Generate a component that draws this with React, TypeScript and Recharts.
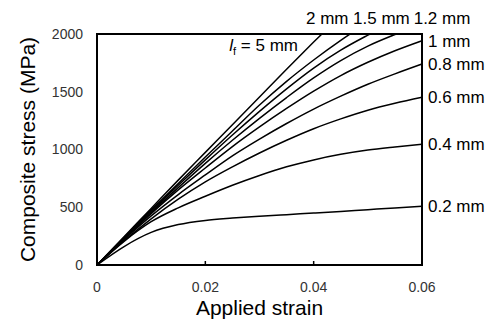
import { LineChart, Line, XAxis, YAxis, ReferenceArea, ReferenceDot } from 'recharts';

const strain = [0, 0.005, 0.01, 0.015, 0.02, 0.025, 0.03, 0.035, 0.04, 0.045, 0.05, 0.055, 0.06];

// composite stress (MPa) per fibre length
const lf02 = [0, 160, 282, 350, 386, 406, 422, 436, 450, 464, 479, 494, 508];
const lf04 = [0, 205, 375, 495, 595, 690, 775, 850, 910, 958, 995, 1022, 1046];
const lf06 = [0, 210, 400, 570, 720, 850, 970, 1080, 1180, 1265, 1340, 1400, 1452];
const lf08 = [0, 220, 425, 610, 780, 945, 1090, 1225, 1350, 1462, 1565, 1655, 1740];
const lf10 = [0, 225, 445, 650, 840, 1025, 1195, 1355, 1505, 1640, 1755, 1855, 1942];
const lf12 = [0, 230, 455, 670, 880, 1080, 1270, 1450, 1620, 1770, 1895, 1995, 2085];
const lf15 = [0, 235, 465, 690, 910, 1125, 1330, 1525, 1705, 1860, 1990, 2110, null];
const lf20 = [0, 240, 475, 705, 935, 1160, 1385, 1590, 1775, 1945, 2100, null, null];
const lf50 = [0, 245, 490, 735, 975, 1215, 1455, 1695, 1930, 2160, null, null, null];

const xTicks = [0, 0.02, 0.04, 0.06];
const yTicks = [0, 500, 1000, 1500, 2000];

const series = [
  { key: 'lf02', name: '0.2 mm', values: lf02 },
  { key: 'lf04', name: '0.4 mm', values: lf04 },
  { key: 'lf06', name: '0.6 mm', values: lf06 },
  { key: 'lf08', name: '0.8 mm', values: lf08 },
  { key: 'lf10', name: '1 mm', values: lf10 },
  { key: 'lf12', name: '1.2 mm', values: lf12 },
  { key: 'lf15', name: '1.5 mm', values: lf15 },
  { key: 'lf20', name: '2 mm', values: lf20 },
  { key: 'lf50', name: '5 mm', values: lf50 },
];

// labels for the curves that leave through the top of the frame
const topLabels = [
  { text: '2 mm', x: 0.0425, y: 2140 },
  { text: '1.5 mm', x: 0.0525, y: 2140 },
  { text: '1.2 mm', x: 0.0637, y: 2140 },
];

const data = strain.map((s, i) => {
  const row: Record<string, number | null> = { strain: s };
  series.forEach((sr) => (row[sr.key] = sr.values[i]));
  return row;
});

const FONT = '"Liberation Sans", Arial, sans-serif';
const last = strain.length - 1;

const fmt = (v: number) => (v === 0 ? '0' : String(v));

function XTick(props: any) {
  const { x, y, payload } = props;
  return (
    <g>
      {payload.value > 0 && payload.value < 0.06 && (
        <line x1={x} x2={x} y1={y} y2={y - 4} stroke="#000" strokeWidth={1.5} />
      )}
      <text x={x} y={y + 27} textAnchor="middle" fontSize={14} fill="#333" fontFamily={FONT}>
        {fmt(payload.value)}
      </text>
    </g>
  );
}

const endLabel = (name: string, withLabel: boolean) => (props: any) => {
  const { x, y, index } = props;
  if (!withLabel || index !== last) return null;
  return (
    <text key={name} x={x + 6} y={y} dy={6} fontSize={17} fill="#000" fontFamily={FONT}>
      {name}
    </text>
  );
};

export default function App() {
  return (
    <div style={{ position: 'absolute', left: 0, top: 0, background: '#fff' }}>
      <LineChart width={490} height={323} data={data} margin={{ top: 34, right: 68, left: 0, bottom: 0 }}>
        <XAxis
          dataKey="strain"
          type="number"
          domain={[0, 0.06]}
          ticks={xTicks}
          height={58}
          axisLine={{ stroke: '#000', strokeWidth: 2 }}
          tickLine={false}
          tickSize={0}
          tickMargin={0}
          tick={<XTick />}
          label={{ value: 'Applied strain', position: 'insideBottom', offset: 8, fontSize: 21, fill: '#000', fontFamily: FONT }}
        />
        <YAxis
          type="number"
          domain={[0, 2000]}
          ticks={yTicks}
          width={97}
          allowDataOverflow
          axisLine={{ stroke: '#000', strokeWidth: 2 }}
          tickLine={false}
          tickSize={0}
          tickMargin={14}
          tick={{ fontSize: 14, fill: '#333', fontFamily: FONT }}
          label={(p: any) => {
            const vb = p.viewBox;
            const cx = 27;
            const cy = vb.y + vb.height / 2;
            return (
              <text
                x={cx}
                y={cy}
                transform={`rotate(-90 ${cx} ${cy})`}
                textAnchor="middle"
                dominantBaseline="central"
                fontSize={21}
                fill="#000"
                fontFamily={FONT}
              >
                Composite stress (MPa)
              </text>
            );
          }}
        />
        <ReferenceArea x1={0} x2={0.06} y1={0} y2={2000} fill="none" stroke="#000" strokeWidth={2} />
        {series.map((sr) => (
          <Line
            key={sr.key}
            dataKey={sr.key}
            type="monotone"
            stroke="#000"
            strokeWidth={1.5}
            dot={false}
            activeDot={false}
            isAnimationActive={false}
            label={endLabel(sr.name, sr.values[last] !== null && (sr.values[last] as number) <= 2000)}
          />
        ))}
        {topLabels.map((t) => (
          <ReferenceDot
            key={t.text}
            x={t.x}
            y={t.y}
            r={0}
            ifOverflow="visible"
            label={{ value: t.text, position: 'center', fontSize: 17, fill: '#000', fontFamily: FONT }}
          />
        ))}
        <ReferenceDot
          x={0.0371}
          y={1853}
          r={0}
          ifOverflow="visible"
          label={(p: any) => {
            const vb = p.viewBox;
            const x = vb.x + (vb.width || 0) / 2;
            const y = vb.y + (vb.height || 0) / 2;
            return (
              <text x={x} y={y} textAnchor="end" fontSize={17} fill="#000" fontFamily={FONT}>
                <tspan fontStyle="italic">l</tspan>
                <tspan fontSize={11} dy={4}>f</tspan>
                <tspan dy={-4}> = 5 mm</tspan>
              </text>
            );
          }}
        />
      </LineChart>
    </div>
  );
}
